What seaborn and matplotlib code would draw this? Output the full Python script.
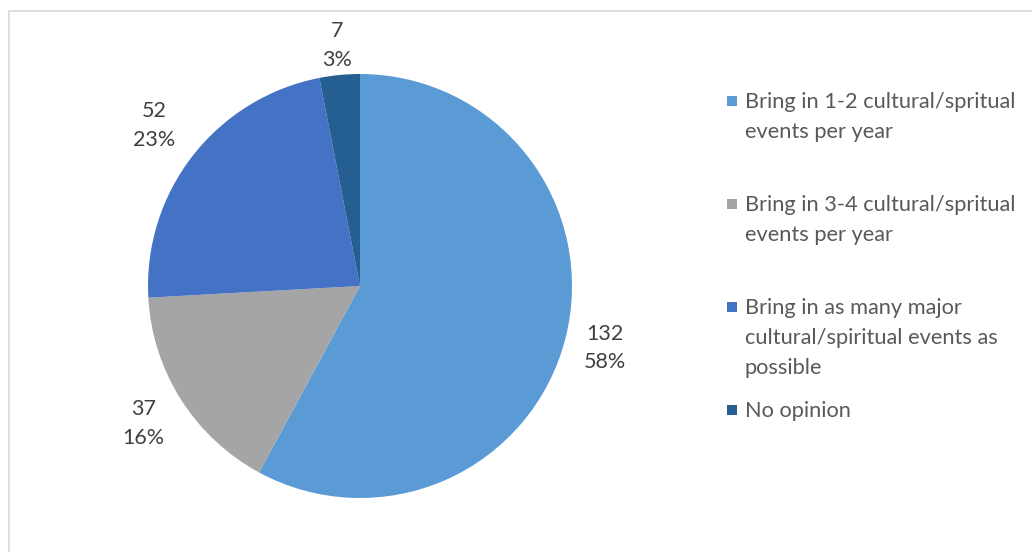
import textwrap

import matplotlib
matplotlib.use("Agg")
import matplotlib.pyplot as plt
from matplotlib.patches import Rectangle
import numpy as np
import seaborn as sns

# Survey responses
categories = [
    "Bring in 1-2 cultural/spritual events per year",
    "Bring in 3-4 cultural/spritual events per year",
    "Bring in as many major cultural/spiritual events as possible",
    "No opinion",
]
counts = [132, 37, 52, 7]
colors = ["#5B9BD5", "#A5A5A5", "#4472C4", "#255E91"]

sns.set_theme(style="white")
plt.rcParams["font.family"] = ["Lato", "DejaVu Sans"]

W, H = 1032, 552
fig = plt.figure(figsize=(W / 100, H / 100), dpi=100)
fig.patch.set_facecolor("white")

# light chart-area frame
fig.patches.append(Rectangle((8.5 / W, -0.05), 1.2, 1 - 10.5 / H + 0.05,
                             transform=fig.transFigure, fill=False,
                             edgecolor="#D9D9D9", linewidth=1.2))

# pie axes: centre (360, 286) px, radius 212 px
cx, cy, r = 360, 286, 212
lim = 1.4
side = 2 * lim * r
ax = fig.add_axes([(cx - side / 2) / W, (H - cy - side / 2) / H, side / W, side / H])

total = sum(counts)
wedges = ax.pie(counts, colors=colors, startangle=90, counterclock=False,
                wedgeprops=dict(linewidth=0))[0]

# data labels outside each slice
label_r = [1.19, 1.21, 1.23, 1.14]
for w, n, lr in zip(wedges, counts, label_r):
    ang = np.deg2rad((w.theta1 + w.theta2) / 2)
    ax.text(lr * np.cos(ang), lr * np.sin(ang),
            f"{n}\n{n / total * 100:.0f}%",
            ha="center", va="center", fontsize=15.5, color="#404040",
            linespacing=1.55)

ax.set_xlim(-lim, lim)
ax.set_ylim(-lim, lim)
ax.set_aspect("equal")
ax.axis("off")

# legend: entries spaced evenly, wrapped text drawn line by line
leg_x = 745
leg_tops = [102, 205, 308, 411]
line_h = 29.8
for cat, col, ty in zip(categories, colors, leg_tops):
    for i, line in enumerate(textwrap.wrap(cat, width=30)):
        fig.text(leg_x / W, 1 - (ty + i * line_h) / H, line,
                 ha="left", va="center", fontsize=15.7, color="#595959")
    fig.patches.append(Rectangle((727 / W, 1 - (ty + 4) / H), 10 / W, 10 / H,
                                 transform=fig.transFigure, facecolor=col,
                                 edgecolor="none"))

fig.savefig("out.png", dpi=100)
